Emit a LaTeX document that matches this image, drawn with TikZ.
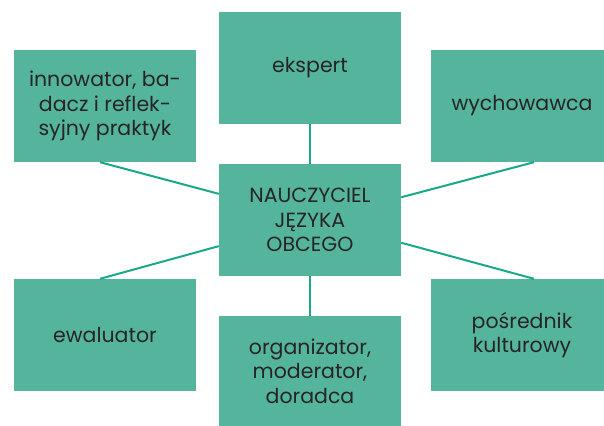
\documentclass[tikz,border=0pt]{standalone}
\usepackage{fontspec}
\setmainfont{Poppins}
\usetikzlibrary{calc,positioning}
\definecolor{boxfill}{HTML}{55B49C}
\definecolor{linkcol}{HTML}{1AA88A}
\definecolor{txtcol}{HTML}{252525}
\begin{document}
\begin{tikzpicture}[x=1pt,y=-1pt,
  rolebox/.style={fill=boxfill,minimum width=182pt,minimum height=112pt,inner sep=0pt,
    align=center,text=txtcol,font=\fontsize{20.5}{24.5}\selectfont},
  link/.style={linkcol,line width=2pt}]
\useasboundingbox (0,0) rectangle (604,425);
\clip (0,0) rectangle (604,425);
\node[rolebox] (innov) at (105,106) {innowator, ba-\\dacz i reflek-\\syjny praktyk};
\node[rolebox] (ekspert) at (310,68) {ekspert};
\node[rolebox] (wych) at (522,106) {wychowawca};
\node[rolebox] (center) at (310,220) {NAUCZYCIEL\\JĘZYKA\\OBCEGO};
\node[rolebox] (ewal) at (105,335) {ewaluator};
\node[rolebox,minimum height=110pt] (org) at (310,371) {organizator,\\moderator,\\doradca};
\node[rolebox] (posr) at (522,335) {pośrednik\\kulturowy};
\draw[link] (center.north)--(ekspert.south);
\draw[link] (center.south)--(org.north);
\draw[link] (center.164)--([xshift=-5pt]innov.south);
\draw[link] (center.14)--([xshift=12pt]wych.south);
\draw[link] (center.196)--([xshift=-5pt]ewal.north);
\draw[link] (center.346)--([xshift=12pt]posr.north);
\end{tikzpicture}
\end{document}
